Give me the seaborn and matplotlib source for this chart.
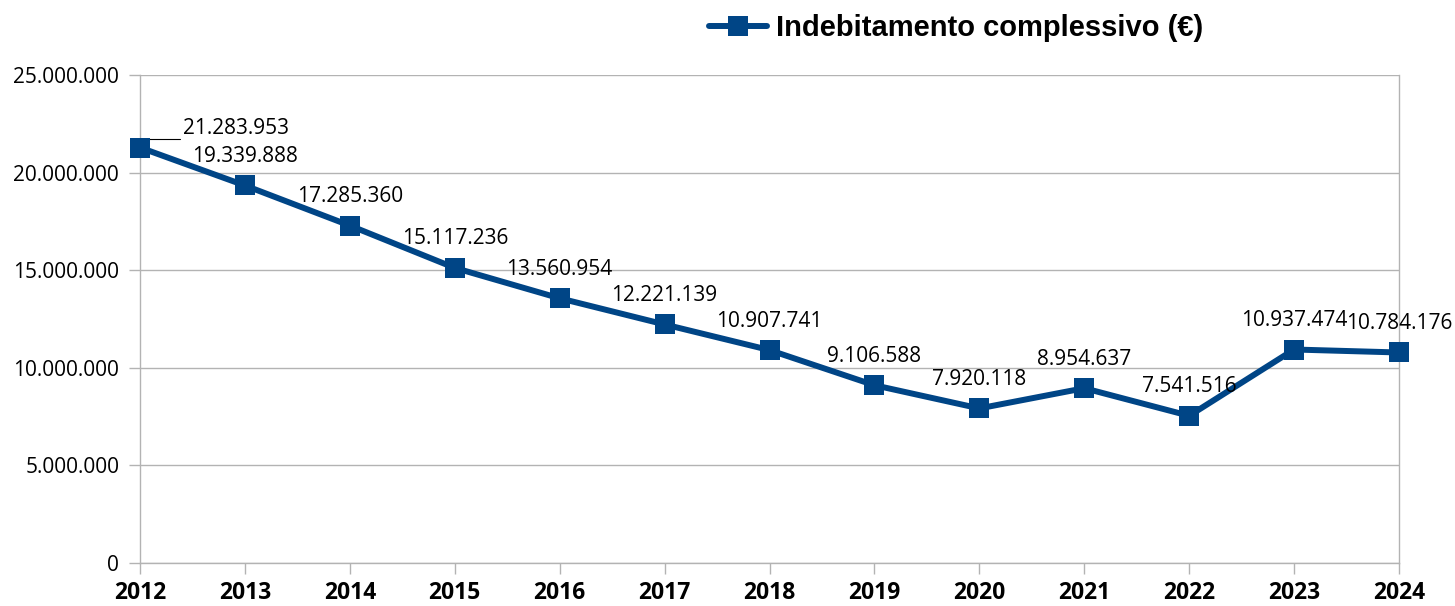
import matplotlib
matplotlib.use("Agg")
import pandas as pd
import seaborn as sns
import matplotlib.pyplot as plt
from matplotlib.font_manager import FontProperties

# dati
anni = [2012, 2013, 2014, 2015, 2016, 2017, 2018, 2019, 2020, 2021, 2022, 2023, 2024]
valori = [21283953, 19339888, 17285360, 15117236, 13560954, 12221139, 10907741,
          9106588, 7920118, 8954637, 7541516, 10937474, 10784176]
serie = "Indebitamento complessivo (€)"
tick_y = [0, 5000000, 10000000, 15000000, 20000000, 25000000]

blu = "#004586"
grigio = "#b3b3b3"


def punti(v):
    return f"{int(v):,}".replace(",", ".")


df = pd.DataFrame({"anno": anni, "valore": valori})

sns.set_style("white")
plt.rcParams["font.family"] = ["Open Sans", "DejaVu Sans"]
plt.rcParams["text.color"] = "black"

fig = plt.figure(figsize=(14.55, 6.06), dpi=100)
ax = fig.add_axes([140 / 1455, 43 / 606, 1259 / 1455, 488 / 606])

sns.lineplot(data=df, x="anno", y="valore", ax=ax, color=blu, lw=4.3,
             marker="s", markersize=14.5, markeredgewidth=0, label=serie, legend=False)
for ln in ax.get_lines():
    ln.set_clip_on(False)
    ln.set_zorder(3)

ax.set_xlim(anni[0], anni[-1])
ax.set_ylim(tick_y[0], tick_y[-1])
ax.set_xticks(anni)
ax.set_yticks(tick_y)
ax.set_yticklabels([punti(t) for t in tick_y])
ax.set_xlabel("")
ax.set_ylabel("")

ax.yaxis.grid(True, color=grigio, lw=1)
ax.set_axisbelow(True)
ax.spines["top"].set_visible(False)
for s in ["left", "right", "bottom"]:
    ax.spines[s].set_color(grigio)
    ax.spines[s].set_linewidth(1)

ax.tick_params(axis="both", direction="out", length=8, width=1, color=grigio,
               labelcolor="black", left=True, bottom=True)
ax.tick_params(axis="y", labelsize=15, pad=7)
ax.tick_params(axis="x", labelsize=16.5, pad=5)
for t in ax.get_xticklabels():
    t.set_fontweight("bold")

# etichette dei valori
for i, (x, v) in enumerate(zip(anni, valori)):
    if i == 0:
        ax.annotate(punti(v), xy=(x, v), xytext=(43, 19), textcoords="offset pixels",
                    ha="left", va="center", fontsize=15, color="black", zorder=1.5,
                    arrowprops=dict(arrowstyle="-", color="black", lw=0.8,
                                    shrinkA=0, shrinkB=0, relpos=(0, 0),
                                    connectionstyle="angle,angleA=0,angleB=90,rad=0"))
    else:
        ax.annotate(punti(v), xy=(x, v), xytext=(0, 29), textcoords="offset pixels",
                    ha="center", va="center", fontsize=15, color="black", zorder=4,
                    annotation_clip=False)

fp = FontProperties(family=["Liberation Sans Narrow", "Liberation Sans"],
                    weight="bold", size=21)
leg = fig.legend(handles=ax.get_lines()[:1], labels=[serie], loc="center",
                 bbox_to_anchor=(956 / 1455, 1 - 28 / 606), frameon=False, prop=fp,
                 handlelength=2.0, handletextpad=0.3, borderpad=0)
for t in leg.get_texts():
    t.set_color("black")

fig.savefig("out.png", dpi=100)
